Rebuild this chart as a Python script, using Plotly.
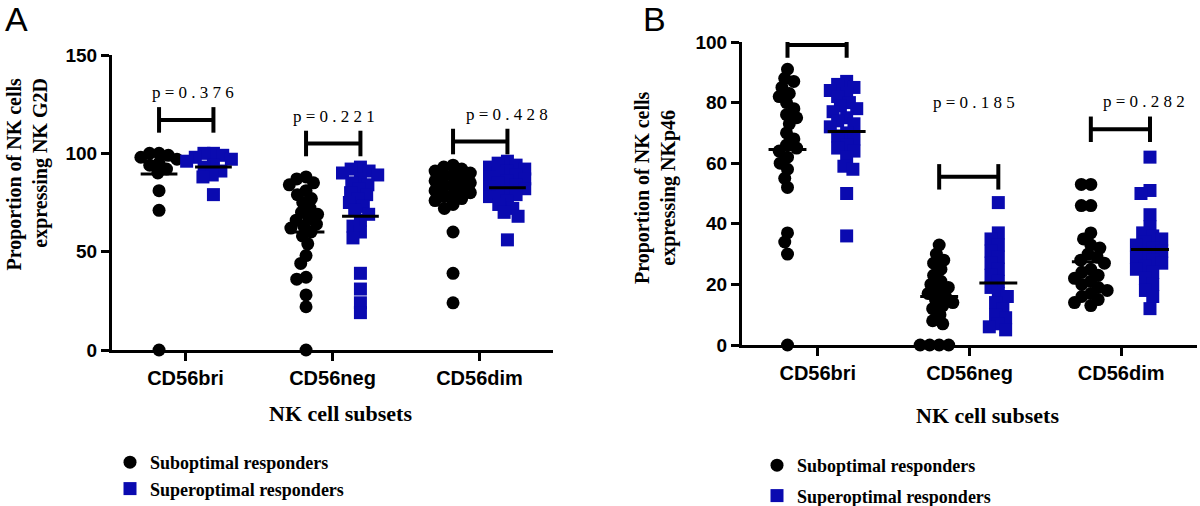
import plotly.graph_objects as go

CATEGORIES = ["CD56bri", "CD56neg", "CD56dim"]

# panel A: NKG2D
g2d_sub_bri = [100, 100, 99, 98, 97, 95, 94, 92, 90, 81, 71, 0]
g2d_sup_bri = [100, 100, 99, 98, 97, 96, 94, 93, 91, 89, 88, 79]
g2d_sub_neg = [88, 87, 85, 84, 81, 79, 77, 75, 72, 70, 69, 67, 66, 64, 63, 62,
               60, 58, 54, 48, 44, 37, 36, 28, 22, 0]
g2d_sup_neg = [93, 92, 91, 90, 89, 87, 85, 84, 82, 80, 79, 77, 75, 73, 71, 69,
               66, 63, 60, 57, 39, 31, 24, 19]
g2d_sub_dim = [94, 93, 92, 91, 90, 89, 88, 87, 86, 85, 84, 83, 82, 81, 80, 79,
               78, 77, 76, 74, 72, 60, 39, 24]
g2d_sup_dim = [96, 95, 94, 93, 92, 91, 90, 89, 88, 87, 86, 85, 84, 83, 82, 81,
               80, 79, 78, 76, 74, 72, 70, 68, 56]
g2d_sub_mean = [89.5, 60, 79]
g2d_sup_mean = [93, 68, 82.5]
g2d_p = ["0.376", "0.221", "0.428"]

# panel B: NKp46
p46_sub_bri = [91, 88, 87, 85, 83, 82, 80, 78, 76, 75, 73, 70, 68, 66, 65, 64,
               62, 60, 58, 55, 52, 37, 34, 30, 0]
p46_sup_bri = [87, 86, 85, 84, 83, 82, 80, 79, 78, 77, 75, 74, 73, 72, 70, 69,
               68, 66, 65, 64, 62, 59, 58, 50, 36]
p46_sub_neg = [33, 30, 28, 27, 25, 23, 21, 20, 19, 18, 17, 16, 15, 14, 13, 12,
               10, 8, 7, 0, 0, 0, 0]
p46_sup_neg = [47, 37, 35, 33, 31, 29, 27, 25, 23, 21, 19, 17, 16, 14, 12, 10,
               9, 7, 6, 5]
p46_sub_dim = [53, 53, 46, 46, 37, 35, 33, 32, 30, 29, 28, 27, 25, 24, 23, 22,
               21, 20, 19, 18, 17, 16, 15, 14, 13]
p46_sup_dim = [62, 51, 50, 43, 39, 37, 36, 35, 34, 33, 32, 31, 30, 29, 28, 27,
               26, 25, 24, 22, 20, 18, 16, 12]
p46_sub_mean = [64.5, 16, 27.5]
p46_sup_mean = [70.5, 20.5, 31.5]
p46_p = ["0.226", "0.185", "0.282"]

BLUE = "#0A0AB0"
W, H = 1200, 506
SERIF = "Liberation Serif"
SANS = "Liberation Sans"


def swarm(vals, ypx, d=9.5):
    # simple beeswarm: smallest horizontal offset (px) that avoids overlaps
    placed, out = [], []
    for v in vals:
        y = v * ypx
        cands = [0.0]
        for px_, py_ in placed:
            dy = abs(py_ - y)
            if dy < d:
                dx = (d * d - dy * dy) ** 0.5
                cands += [px_ - dx, px_ + dx]
        cands.sort(key=abs)
        pick = 0.0
        for c in cands:
            if all((c - a) ** 2 + (y - b) ** 2 >= d * d - 1e-6 for a, b in placed):
                pick = c
                break
        placed.append((pick, y))
        out.append(pick)
    return out


def group_xy(groups, side, xpx, ypx):
    xs, ys = [], []
    for i, vals in enumerate(groups):
        offs = swarm(vals, ypx)
        xs += [i + 0.5 + side + o / xpx for o in offs]
        ys += list(vals)
    return xs, ys


def seg_xy(centers, levels, half):
    xs, ys = [], []
    for c, lv in zip(centers, levels):
        xs += [c - half, c + half, None]
        ys += [lv, lv, None]
    return xs, ys


def bracket_xy(x0s, x1s, mids, half):
    xs, ys = [], []
    for a, b, m in zip(x0s, x1s, mids):
        xs += [a, a, None, a, b, None, b, b, None]
        ys += [m - half, m + half, None, m, m, None, m - half, m + half, None]
    return xs, ys


def add_panel(fig, sub, sup, sub_mean, sup_mean, xref, yref, legend,
              xpx, ypx, s_sub, s_sup, br_mid, br_half):
    xa, ya = "x" + xref, "y" + yref
    x, y = group_xy(sub, s_sub, xpx, ypx)
    fig.add_trace(go.Scatter(
        x=x, y=y, mode="markers", name="Suboptimal responders",
        marker=dict(symbol="circle", size=13, color="black"),
        cliponaxis=False, xaxis=xa, yaxis=ya, legend=legend,
        legendgroup=legend + "sub"))
    x, y = group_xy(sup, s_sup, xpx, ypx)
    fig.add_trace(go.Scatter(
        x=x, y=y, mode="markers", name="Superoptimal responders",
        marker=dict(symbol="square", size=13, color=BLUE),
        cliponaxis=False, xaxis=xa, yaxis=ya, legend=legend,
        legendgroup=legend + "sup"))
    c_sub = [i + 0.5 + s_sub for i in range(3)]
    c_sup = [i + 0.5 + s_sup for i in range(3)]
    mx, my = seg_xy(c_sub + c_sup, sub_mean + sup_mean, 0.125)
    fig.add_trace(go.Scatter(x=mx, y=my, mode="lines", showlegend=False,
                             line=dict(color="black", width=3),
                             xaxis=xa, yaxis=ya))
    bx, by = bracket_xy(c_sub, c_sup, br_mid, br_half)
    fig.add_trace(go.Scatter(x=bx, y=by, mode="lines", showlegend=False,
                             line=dict(color="black", width=4),
                             cliponaxis=False, xaxis=xa, yaxis=ya))


fig = go.Figure()

# panel A pixel scales: 147 px per category, 1.967 px per unit
add_panel(fig, [g2d_sub_bri, g2d_sub_neg, g2d_sub_dim],
          [g2d_sup_bri, g2d_sup_neg, g2d_sup_dim],
          g2d_sub_mean, g2d_sup_mean, "", "", "legend",
          147, 1.967, -0.18, 0.19, [117, 105, 106], 6.5)
# panel B pixel scales: 151.5 px per category, 3.03 px per unit
add_panel(fig, [p46_sub_bri, p46_sub_neg, p46_sub_dim],
          [p46_sup_bri, p46_sup_neg, p46_sup_dim],
          p46_sub_mean, p46_sup_mean, "2", "2", "legend2",
          151.5, 3.03, -0.2, 0.19, [99, 55.5, 71.2], 4.2)

tick_font = dict(family=SANS, size=20, color="black", weight="bold")
ytick_font = dict(family=SANS, size=19, color="black", weight="bold")
axis_common = dict(showline=True, linewidth=3, linecolor="black",
                   ticks="outside", ticklen=8, tickwidth=3, tickcolor="black",
                   showgrid=False, zeroline=False, automargin=False)

legend_font = dict(family=SERIF, size=18, color="black", weight="bold")
fig.update_layout(
    width=W, height=H, margin=dict(l=0, r=0, t=0, b=0, autoexpand=False),
    plot_bgcolor="white", paper_bgcolor="white",
    xaxis=dict(domain=[112 / W, 553 / W], range=[0, 3], tickvals=[0.5, 1.5, 2.5],
               ticktext=CATEGORIES, anchor="y", ticklabelstandoff=0,
               tickfont=tick_font, **axis_common),
    yaxis=dict(domain=[1 - 350 / H, 1 - 55 / H], range=[0, 150], tickvals=[0, 50, 100, 150],
               anchor="x", tickfont=ytick_font, **axis_common),
    xaxis2=dict(domain=[742 / W, 1197 / W], range=[0, 3], tickvals=[0.5, 1.5, 2.5],
                ticktext=CATEGORIES, anchor="y2", ticklabelstandoff=0,
                tickfont=tick_font, **axis_common),
    yaxis2=dict(domain=[1 - 345 / H, 1 - 42 / H], range=[0, 100], tickvals=[0, 20, 40, 60, 80, 100],
                anchor="x2", tickfont=ytick_font, **axis_common),
    legend=dict(x=110 / W, y=1 - 444 / H, xanchor="left", yanchor="top",
                font=legend_font, tracegroupgap=0, bgcolor="rgba(0,0,0,0)"),
    legend2=dict(x=757 / W, y=1 - 447 / H, xanchor="left", yanchor="top",
                 font=legend_font, tracegroupgap=4, bgcolor="rgba(0,0,0,0)"),
)

title_font = dict(family=SERIF, size=20, color="black", weight="bold")
ann = [
    dict(text="A", x=3 / W, y=1 + 2 / H, xanchor="left", yanchor="top", xref="paper", yref="paper",
         font=dict(family=SANS, size=34, color="black"), showarrow=False),
    dict(text="B", x=641 / W, y=1 + 2 / H, xanchor="left", yanchor="top", xref="paper", yref="paper",
         font=dict(family=SANS, size=34, color="black"), showarrow=False),
    dict(text="Proportion of NK cells<br>expressing NK G2D", textangle=-90, align="right",
         x=27 / W, y=1 - 76 / H, xanchor="center", yanchor="top", xref="paper", yref="paper",
         font=title_font, showarrow=False),
    dict(text="Proportion of NK cells<br>expressing NKp46", textangle=-90, align="center",
         x=655 / W, y=1 - 187 / H, xanchor="center", yanchor="middle", xref="paper", yref="paper",
         font=title_font, showarrow=False),
    dict(text="NK cell subsets", x=340 / W, y=1 - 413 / H, xanchor="center", yanchor="middle",
         xref="paper", yref="paper", font=dict(family=SERIF, size=22, color="black", weight="bold"),
         showarrow=False),
    dict(text="NK cell subsets", x=987 / W, y=1 - 415 / H, xanchor="center", yanchor="middle",
         xref="paper", yref="paper", font=dict(family=SERIF, size=22, color="black", weight="bold"),
         showarrow=False),
]

p_font = dict(family=SERIF, size=17, color="black")
# p-value label placement (category offset, height in data units)
g2d_p_pos = [(0.05, 130.7), (0.01, 118.6), (0.19, 119.5)]
p46_p_pos = [(0.05, 109), (0.03, 80), (0.15, 80.5)]
for i, (p, (dx, yy)) in enumerate(zip(g2d_p, g2d_p_pos)):
    ann.append(dict(text="p = " + " ".join(p), x=i + 0.5 + dx, y=yy, xref="x", yref="y",
                    xanchor="center", yanchor="middle", font=p_font, showarrow=False))
for i, (p, (dx, yy)) in enumerate(zip(p46_p, p46_p_pos)):
    ann.append(dict(text="p = " + " ".join(p), x=i + 0.5 + dx, y=yy, xref="x2", yref="y2",
                    xanchor="center", yanchor="middle", font=p_font, showarrow=False))

fig.update_layout(annotations=ann)

# drop the default page margin so the 1200x506 figure fills the window
fig.write_html("out.html", config={"displayModeBar": False},
               post_script="document.body.style.margin='0';document.body.style.overflow='hidden';")
